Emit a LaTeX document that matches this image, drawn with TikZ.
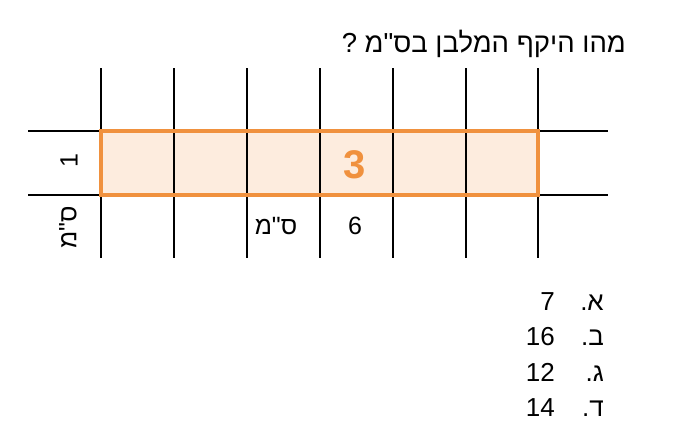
\documentclass[tikz,border=0pt]{standalone}
\usepackage{fontspec}
\setmainfont{Liberation Sans}
\newfontfamily\hebfont[Script=Hebrew]{Liberation Sans}
\TeXXeTstate=1
\usepackage{tikz}
\definecolor{rectline}{RGB}{240,145,62}
\definecolor{rectfill}{RGB}{253,236,222}
\tikzstyle{gridline} = [draw=black, line width=1.8pt]
\tikzstyle{border} = [draw=rectline, line width=3.5pt]
\tikzstyle{celltext} = [inner sep=0pt, font=\fontsize{25}{30}\selectfont]
\tikzstyle{areatext} = [inner sep=0pt, text=rectline, font=\fontsize{40}{46}\selectfont\bfseries]
\tikzstyle{question} = [inner sep=0pt, anchor=base east, font=\fontsize{27.5}{32}\selectfont\hebfont]
\tikzstyle{answer} = [inner sep=0pt, anchor=base east, font=\fontsize{26}{30}\selectfont]

\begin{document}
\begin{tikzpicture}[x=1pt, y=-1pt]
	\useasboundingbox (0,0) rectangle (675,432);
	% the rectangle and the grid
	\fill[rectfill] (101,131) rectangle (538,195);
	\foreach \x in {101,174,247,320,393,466,538}
		\draw[gridline] (\x,68) -- (\x,258);
	\foreach \y in {131,195}
		\draw[gridline] (28,\y) -- (608,\y);
	\draw[border] (101,131) rectangle (538,195);
	% texts
	\node[question] (TITLE) at (626,52) {\beginR מהו היקף המלבן בס"מ ?\endR};
	\node[areatext] (AREA) at (355,165) {3};
	\node[celltext, rotate=90] (SIDE_NUM) at (69,161) {1};
	\node[celltext, rotate=90] (SIDE_UNIT) at (68,227) {\hebfont\beginR ס"מ\endR};
	\node[celltext] (LEN_UNIT) at (276,226) {\hebfont\beginR ס"מ\endR};
	\node[celltext] (LEN_NUM) at (355,226) {6};
	% answers
	\foreach \lbl/\val [count=\i] in {א/7,ב/16,ג/12,ד/14}
	{
		\node[answer] (ANS_LBL_\i) at (604,274.5+35.5*\i) {\hebfont\beginR\lbl.\endR};
		\node[answer] (ANS_VAL_\i) at (555,274.5+35.5*\i) {\val};
	}
\end{tikzpicture}
\end{document}
